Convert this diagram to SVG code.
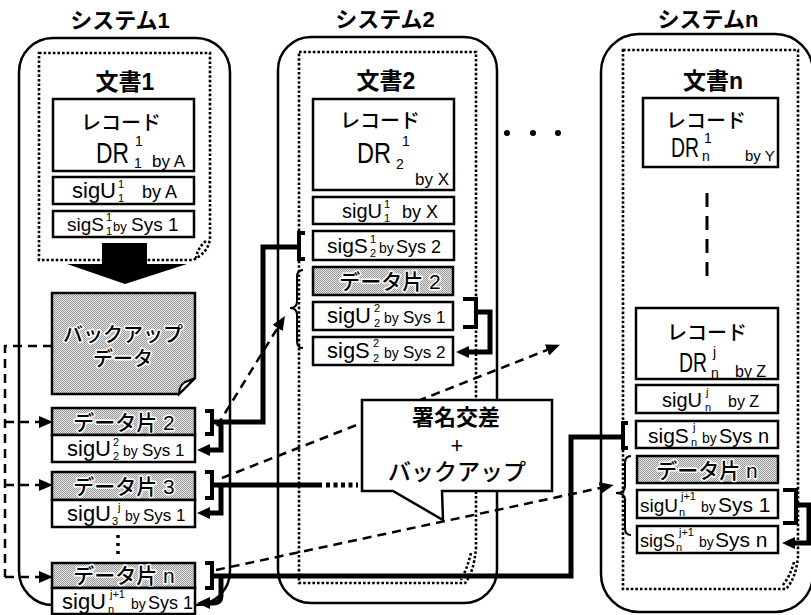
<svg xmlns="http://www.w3.org/2000/svg" width="811" height="615" viewBox="0 0 811 615">
  <defs>
    <style>
      text{font-family:"Liberation Sans","Noto Sans CJK JP",sans-serif;fill:#000}
      .ttl{font-size:22px;font-weight:bold;text-anchor:middle}
      .doc{font-size:23px;font-weight:bold;text-anchor:middle}
      .rec{font-size:20px;font-weight:500;text-anchor:middle}
      .dr{font-size:30px}
      .rs{font-size:14px}
      .sg{font-size:22px}
      .by{font-size:14px}
      .sy{font-size:17px}
      .ss{font-size:11px}
      .pc{font-size:21px;font-weight:500;text-anchor:middle;stroke:#fff;stroke-width:3px;paint-order:stroke;stroke-linejoin:round}
      .co{font-size:22px;text-anchor:middle}
      .outer{fill:#fff;stroke:#000;stroke-width:2.5}
      .dframe{fill:none;stroke:#000;stroke-width:2.6;stroke-dasharray:2.6 2}
      .box{fill:#fff;stroke:#000;stroke-width:2.5}
      .gbox{fill:url(#half);stroke:#000;stroke-width:2.5}
      .thick{fill:none;stroke:#000;stroke-width:5}
      .brk{fill:none;stroke:#000;stroke-width:4}
      .brace{fill:none;stroke:#000;stroke-width:2}
      .dash{fill:none;stroke:#000;stroke-width:2.5;stroke-dasharray:9 6}
    </style>
    <pattern id="half" width="2" height="2" patternUnits="userSpaceOnUse">
      <rect width="2" height="2" fill="#e4e4e4"/>
      <rect width="1" height="1" fill="#9a9a9a"/>
      <rect x="1" y="1" width="1" height="1" fill="#9a9a9a"/>
    </pattern>
    <marker id="ah" markerUnits="userSpaceOnUse" markerWidth="13" markerHeight="12" refX="0" refY="6" orient="auto">
      <path d="M0,0 L13,6 L0,12 Z" fill="#000"/>
    </marker>
    <marker id="ad" markerUnits="userSpaceOnUse" markerWidth="14" markerHeight="12" refX="0" refY="6" orient="auto">
      <path d="M0,0 L14,6 L0,12 Z" fill="#000"/>
    </marker>
  </defs>

  <rect width="811" height="615" fill="#fff"/>

  <!-- System 1 -->
  <g id="sys1">
    <rect class="outer" x="19" y="38" width="211" height="567" rx="34"/>
    <text class="ttl" x="120" y="28">システム1</text>
    <g id="doc1">
      <path class="dframe" d="M39,53 H210 V238 Q209,252 193,260 H39 Z"/>
      <path class="dframe" d="M206,241 Q198,247 196,258"/>
      <text class="doc" x="125" y="90">文書1</text>
      <rect class="box" x="53" y="99" width="141" height="72"/>
      <text class="rec" x="121" y="130">レコード</text>
      <text class="dr" x="96" y="163" textLength="33" lengthAdjust="spacingAndGlyphs">DR</text>
      <text class="rs" x="135" y="146">1</text>
      <text class="rs" x="134" y="168">1</text>
      <text x="152" y="167" style="font-size:17px">by A</text>
      <rect class="box" x="53" y="177" width="141" height="27"/>
      <text class="sg" x="72" y="198">sigU</text>
      <text class="ss" x="118" y="188">1</text>
      <text class="ss" x="118" y="202">1</text>
      <text x="142" y="198" style="font-size:18px">by A</text>
      <rect class="box" x="53" y="211" width="141" height="26"/>
      <text class="sg" x="67" y="231" style="font-size:19px">sigS</text>
      <text class="ss" x="106" y="221">1</text>
      <text class="ss" x="106" y="235">1</text>
      <text x="113" y="231" style="font-size:13px">by</text>
      <text x="131" y="231" style="font-size:19px">Sys 1</text>
    </g>
    <path d="M102,243 H147 V264 H187 L125,284 L67,264 H102 Z" fill="#000"/>
    <g id="backup">
      <path class="gbox" d="M52,293 H195 V378 L179,394 H52 Z"/>
      <path d="M195,378 L179,394 Q179,386 185,382 Q189,381 195,378 Z" fill="#fff" stroke="#000" stroke-width="2"/>
      <text class="pc" x="123" y="342" style="font-size:20px">バックアップ</text>
      <text class="pc" x="123" y="366" style="font-size:20px">データ</text>
    </g>
    <g id="sys1-piece2">
      <rect class="gbox" x="52" y="408" width="143" height="27"/>
      <text class="pc" x="124" y="430">データ片 2</text>
      <rect class="box" x="52" y="435" width="143" height="27"/>
      <text class="sg" x="67" y="456">sigU</text>
      <text class="ss" x="113" y="446">2</text>
      <text class="ss" x="113" y="460">2</text>
      <text class="by" x="123" y="456">by</text>
      <text class="sy" x="142" y="456">Sys 1</text>
    </g>
    <g id="sys1-piece3">
      <rect class="gbox" x="52" y="472" width="143" height="28"/>
      <text class="pc" x="124" y="494">データ片 3</text>
      <rect class="box" x="52" y="500" width="143" height="27"/>
      <text class="sg" x="67" y="521">sigU</text>
      <text class="ss" x="112" y="525">3</text>
      <text class="ss" x="118" y="511">j</text>
      <text class="by" x="125" y="521">by</text>
      <text class="sy" x="143" y="521">Sys 1</text>
    </g>
    <path d="M118,535 V555" stroke="#000" stroke-width="3.5" stroke-dasharray="3 5"/>
    <g id="sys1-piecen">
      <rect class="gbox" x="52" y="563" width="143" height="25"/>
      <text class="pc" x="124" y="583">データ片 n</text>
      <rect class="box" x="52" y="588" width="143" height="26"/>
      <text class="sg" x="62" y="609">sigU</text>
      <text class="ss" x="108" y="613">n</text>
      <text class="ss" x="110" y="598">j+1</text>
      <text class="by" x="131" y="609">by</text>
      <text x="148" y="609" style="font-size:18px">Sys 1</text>
    </g>
  </g>

  <!-- System 2 -->
  <g id="sys2">
    <rect class="outer" x="278" y="37" width="219" height="566" rx="33"/>
    <text class="ttl" x="385" y="27">システム2</text>
    <g id="doc2">
      <path class="dframe" d="M299,52 H476 V548 Q474,572 465,583 H299 Z"/>
      <path class="dframe" d="M471,553 Q467,569 461,580"/>
      <text class="doc" x="386" y="89">文書2</text>
      <rect class="box" x="313" y="99" width="141" height="91"/>
      <text class="rec" x="380" y="128">レコード</text>
      <text class="dr" x="357" y="163" textLength="34" lengthAdjust="spacingAndGlyphs">DR</text>
      <text class="rs" x="402" y="146">1</text>
      <text class="rs" x="396" y="169">2</text>
      <text x="415" y="185" style="font-size:17px">by X</text>
      <rect class="box" x="313" y="197" width="141" height="27"/>
      <text class="sg" x="342" y="218" style="font-size:20px">sigU</text>
      <text class="ss" x="384" y="208">1</text>
      <text class="ss" x="384" y="222">1</text>
      <text x="402" y="218" style="font-size:18px">by X</text>
      <rect class="box" x="313" y="231" width="141" height="29"/>
      <text class="sg" x="327" y="253" style="font-size:21px">sigS</text>
      <text class="ss" x="370" y="243">1</text>
      <text class="ss" x="370" y="257">2</text>
      <text class="by" x="379" y="253">by</text>
      <text x="396" y="253" style="font-size:18px">Sys 2</text>
      <g id="sys2-piece2">
        <rect class="gbox" x="313" y="267" width="140" height="28"/>
        <text class="pc" x="390" y="289">データ片 2</text>
        <rect class="box" x="313" y="302" width="140" height="28"/>
        <text class="sg" x="327" y="323">sigU</text>
        <text class="ss" x="374" y="312">2</text>
        <text class="ss" x="374" y="327">2</text>
        <text class="by" x="384" y="323">by</text>
        <text class="sy" x="403" y="323">Sys 1</text>
        <rect class="box" x="313" y="337" width="140" height="28"/>
        <text class="sg" x="327" y="358">sigS</text>
        <text class="ss" x="373" y="347">2</text>
        <text class="ss" x="373" y="362">2</text>
        <text class="by" x="384" y="358">by</text>
        <text class="sy" x="403" y="358">Sys 2</text>
      </g>
    </g>
  </g>

  <!-- ellipsis between systems -->
  <g id="ellipsis" fill="#000">
    <circle cx="507" cy="133" r="3"/>
    <circle cx="533" cy="133" r="3"/>
    <circle cx="558" cy="133" r="3"/>
  </g>

  <!-- System n -->
  <g id="sysn">
    <rect class="outer" x="601" y="34" width="212" height="578" rx="38"/>
    <text class="ttl" x="708" y="27">システムn</text>
    <g id="docn">
      <path class="dframe" d="M623,50 H798 V557 Q796,578 786,589 H623 Z"/>
      <path class="dframe" d="M794,562 Q790,577 782,586"/>
      <text class="doc" x="713" y="89">文書n</text>
      <rect class="box" x="643" y="98" width="135" height="69"/>
      <text class="rec" x="706" y="128">レコード</text>
      <text class="dr" x="671" y="157" style="font-size:27px" textLength="28" lengthAdjust="spacingAndGlyphs">DR</text>
      <text class="rs" x="704" y="143">1</text>
      <text class="rs" x="702" y="161">n</text>
      <text x="745" y="161" style="font-size:15px">by Y</text>
      <path d="M707,193 V283" stroke="#000" stroke-width="3" stroke-dasharray="14 9"/>
      <rect class="box" x="636" y="308" width="142" height="71"/>
      <text class="rec" x="707" y="340">レコード</text>
      <text class="dr" x="679" y="372" style="font-size:27px" textLength="28" lengthAdjust="spacingAndGlyphs">DR</text>
      <text class="rs" x="713" y="357">j</text>
      <text class="rs" x="711" y="378">n</text>
      <text x="735" y="377" style="font-size:16px">by Z</text>
      <rect class="box" x="636" y="385" width="142" height="28"/>
      <text class="sg" x="662" y="407" style="font-size:20px">sigU</text>
      <text class="ss" x="706" y="396">j</text>
      <text class="ss" x="705" y="411">n</text>
      <text x="728" y="407" style="font-size:16px">by Z</text>
      <rect class="box" x="636" y="421" width="142" height="27"/>
      <text class="sg" x="648" y="443" style="font-size:21px">sigS</text>
      <text class="ss" x="693" y="431">j</text>
      <text class="ss" x="691" y="446">n</text>
      <text class="by" x="702" y="443">by</text>
      <text x="719" y="443" style="font-size:20px">Sys n</text>
      <g id="sysn-piecen">
        <rect class="gbox" x="637" y="456" width="141" height="27"/>
        <text class="pc" x="707" y="478">データ片 n</text>
        <rect class="box" x="637" y="490" width="141" height="28"/>
        <text class="sg" x="640" y="512" style="font-size:19px">sigU</text>
        <text class="ss" x="679" y="516">n</text>
        <text class="ss" x="681" y="500">j+1</text>
        <text class="by" x="701" y="512">by</text>
        <text x="718" y="512" style="font-size:21px">Sys 1</text>
        <rect class="box" x="637" y="526" width="141" height="27"/>
        <text class="sg" x="640" y="547" style="font-size:18px">sigS</text>
        <text class="ss" x="676" y="551">n</text>
        <text class="ss" x="679" y="536">j+1</text>
        <text class="by" x="699" y="547">by</text>
        <text x="715" y="547" style="font-size:21px">Sys n</text>
      </g>
    </g>
  </g>

  <!-- Connectors -->
  <g id="connectors">
    <!-- backup data distributed to the pieces -->
    <path class="dash" d="M52,346 H5 V577"/>
    <path class="dash" d="M5,422 H39" marker-end="url(#ad)"/>
    <path class="dash" d="M5,485 H39" marker-end="url(#ad)"/>
    <path class="dash" d="M5,577 H39" marker-end="url(#ad)"/>

    <!-- brackets -->
    <path class="brk" d="M205,411 H212 V434 H205"/>
    <path class="brk" d="M205,472 H212 V498 H205"/>
    <path class="brk" d="M205,563 H212 V588 H205"/>
    <path class="brk" d="M305,233 H299 V259 H305"/>
    <path class="brk" d="M463,299 H476 V327 H463"/>
    <path class="brk" d="M628,423 H623 V448 H628"/>
    <path class="brk" d="M783,490 H796 V523 H783"/>

    <!-- braces -->
    <path class="brace" d="M303,270 Q297,270 297,277 V301 Q297,308 290,308 Q297,308 297,315 V341 Q297,348 303,348"/>
    <path class="brace" d="M631,456 Q625,456 625,463 V486 Q625,493 616,493 Q625,493 625,500 V528 Q625,535 631,535"/>

    <!-- signature arrows -->
    <path class="thick" d="M221,422 V450 H210" marker-end="url(#ah)"/>
    <path class="thick" d="M221,485 V513 H210" marker-end="url(#ah)"/>
    <path class="thick" d="M221,576 V595 Q221,603 213,603 H210" marker-end="url(#ah)"/>
    <path class="thick" d="M477,312 H490 V352 H469" marker-end="url(#ah)"/>
    <path class="thick" d="M797,505 H809 V543 H795" marker-end="url(#ah)"/>

    <!-- cross signatures -->
    <path class="thick" d="M213,422 H263 V247 H299"/>
    <path class="thick" d="M213,485 H322"/>
    <path d="M326,485 H358" stroke="#000" stroke-width="5" stroke-dasharray="4 3.5"/>
    <path class="thick" d="M213,576 H571 V437 H623"/>

    <!-- backup copies -->
    <path class="dash" d="M217,426 L277.6,328" marker-end="url(#ad)"/>
    <path class="dash" d="M222,478 L547,350" marker-end="url(#ad)"/>
    <path class="dash" d="M216,570 L600,488" marker-end="url(#ad)"/>
  </g>

  <!-- Callout -->
  <g id="callout">
    <path d="M362,400 H552 V491 H442 L443,520 L393,491 H362 Z" fill="#fff" stroke="#000" stroke-width="2.5" stroke-linejoin="miter"/>
    <text class="co" x="456" y="425" style="font-weight:bold">署名交差</text>
    <text class="co" x="457" y="453">+</text>
    <text class="co" x="457" y="480" style="font-size:23px;font-weight:500">バックアップ</text>
  </g>
</svg>
